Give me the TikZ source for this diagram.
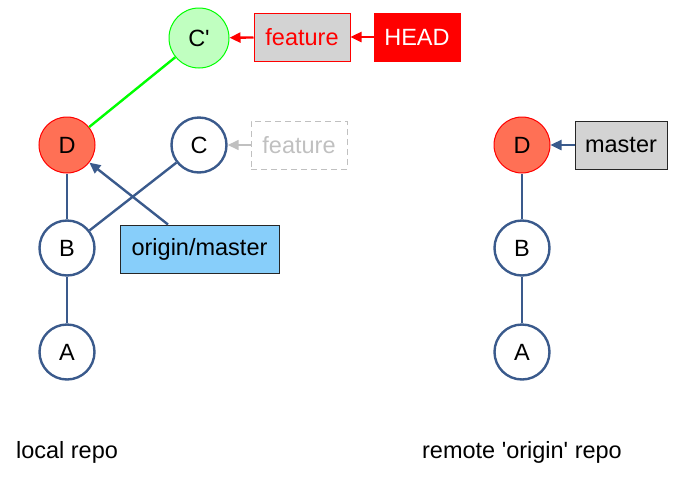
\documentclass[tikz,border=0pt]{standalone}
\usepackage{fontspec}
\setmainfont{Liberation Sans}[Ligatures=TeXOff]
\usetikzlibrary{arrows.meta}
\definecolor{edgeblue}{RGB}{58,90,140}
\definecolor{dfill}{RGB}{255,112,85}
\definecolor{cfill}{RGB}{192,255,192}
\definecolor{boxgray}{RGB}{211,211,211}
\definecolor{skyb}{RGB}{135,206,250}
\definecolor{ghost}{RGB}{192,192,192}
\tikzset{
  commit/.style={circle, draw=edgeblue, line width=2.4pt, fill=white, minimum size=55pt, inner sep=0pt},
  headc/.style={circle, draw=red, line width=1pt, fill=dfill, minimum size=56pt, inner sep=0pt},
  newc/.style={circle, draw=green, line width=1pt, fill=cfill, minimum size=60pt, inner sep=0pt},
  refbox/.style={rectangle, draw=black!85, line width=1pt, minimum height=48pt, inner sep=0pt},
  link/.style={draw=edgeblue, line width=2.4pt},
  ptr/.style={line width=2.4pt, -{Triangle[length=11pt,width=10pt]}},
  txt/.style={font=\fontsize{23.5}{28}\selectfont}
}
\begin{document}
\begin{tikzpicture}[x=1pt,y=-1pt,every node/.style={txt}]
\useasboundingbox (0,0) rectangle (673,483);
% local repo
\node[newc] (cp) at (199,38) {C'};
\node[refbox, draw=red, fill=boxgray, text=red, minimum width=96pt] (feat) at (302,37) {feature};
\node[refbox, draw=red, fill=red, text=white, minimum width=86pt] (head) at (417,37) {HEAD};
\node[headc] (d) at (67,145) {D};
\node[commit] (c) at (199,145) {C};
\node[refbox, draw=ghost, dashed, dash pattern=on 6pt off 4pt, text=ghost, minimum width=96pt] (fold) at (299,145) {feature};
\node[commit] (b) at (67,248) {B};
\node[refbox, fill=skyb, minimum width=159pt] (om) at (199.5,249) {origin/master};
\node[commit] (a) at (67,352) {A};
% remote repo
\node[headc] (rd) at (522,145) {D};
\node[commit] (rb) at (522,248) {B};
\node[commit] (ra) at (522,352) {A};
\node[refbox, fill=boxgray, minimum width=92pt] (rm) at (621,145) {master};
% labels
\node (l1) at (67,452) {local repo};
\node (l2) at (522,452) {remote 'origin' repo};
% edges
\draw[link] (a) -- (b);
\draw[link] (b) -- (d);
\draw[link] (b) -- (c);
\draw[line width=2.4pt, draw=green] (d) -- (cp);
\draw[link] (ra) -- (rb);
\draw[link] (rb) -- (rd);
% pointers
\draw[ptr, draw=red, fill=red] (head) -- (feat);
\draw[ptr, draw=red, fill=red] (feat) -- (cp);
\draw[ptr, draw=ghost, fill=ghost, line width=1.5pt] (fold) -- (c);
\draw[ptr, draw=edgeblue, fill=edgeblue] (om.north -| 168,0) -- (d);
\draw[ptr, draw=edgeblue, fill=edgeblue] (rm) -- (rd);
\end{tikzpicture}
\end{document}
